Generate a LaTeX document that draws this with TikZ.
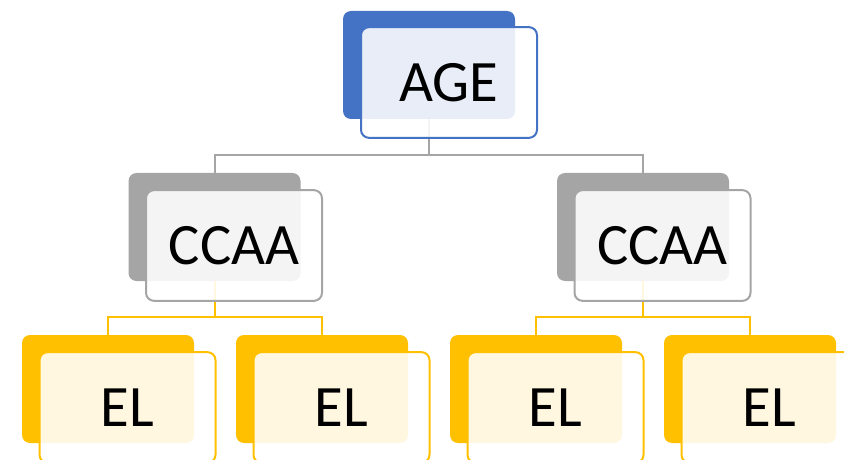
\documentclass[tikz,border=0pt]{standalone}
\usepackage{fontspec}
\setmainfont{Carlito}
\definecolor{ageblue}{RGB}{68,114,196}
\definecolor{ccaagray}{RGB}{165,165,165}
\definecolor{elgold}{RGB}{255,192,0}

\begin{document}
\begin{tikzpicture}[x=0.75pt,y=0.75pt,yscale=-1,xscale=1,
  back/.style={rectangle,rounded corners=6pt,minimum width=129pt,minimum height=81pt,inner sep=0pt},
  front/.style={rectangle,rounded corners=6pt,line width=1.5pt,fill=white,fill opacity=0.88,text opacity=1,
    minimum width=132pt,minimum height=83pt,inner sep=0pt,font=\fontsize{44}{50}\selectfont},
  link/.style={line width=1.5pt}]
\useasboundingbox (0,0) rectangle (844,460);

%Back boxes
\node [back,fill=ageblue] (ageB) at (429,65) {};
\node [back,fill=ccaagray] (ccaaLB) at (214.5,227) {};
\node [back,fill=ccaagray] (ccaaRB) at (643,227) {};
\node [back,fill=elgold] (elAB) at (108,389) {};
\node [back,fill=elgold] (elBB) at (322,389) {};
\node [back,fill=elgold] (elCB) at (536,389) {};
\node [back,fill=elgold] (elDB) at (750,389) {};

%Connectors
\draw [link,color=ccaagray] (ageB.south) -- ++(0,36) -| (ccaaLB.north);
\draw [link,color=ccaagray] (ageB.south) -- ++(0,36) -| (ccaaRB.north);
\draw [link,color=elgold] (ccaaLB.south) -- ++(0,36) -| (elAB.north);
\draw [link,color=elgold] (ccaaLB.south) -- ++(0,36) -| (elBB.north);
\draw [link,color=elgold] (ccaaRB.south) -- ++(0,36) -| (elCB.north);
\draw [link,color=elgold] (ccaaRB.south) -- ++(0,36) -| (elDB.north);

%Front boxes with text
\node [front,draw=ageblue] (ageF) at (449,82.5) {AGE};
\node [front,draw=ccaagray] (ccaaLF) at (234,245.5) {CCAA};
\node [front,draw=ccaagray] (ccaaRF) at (662.5,245.5) {CCAA};
\node [front,draw=elgold] (elAF) at (127.5,407.5) {EL};
\node [front,draw=elgold] (elBF) at (341.5,407.5) {EL};
\node [front,draw=elgold] (elCF) at (555.5,407.5) {EL};
\node [front,draw=elgold] (elDF) at (769.5,407.5) {EL};

\end{tikzpicture}
\end{document}
